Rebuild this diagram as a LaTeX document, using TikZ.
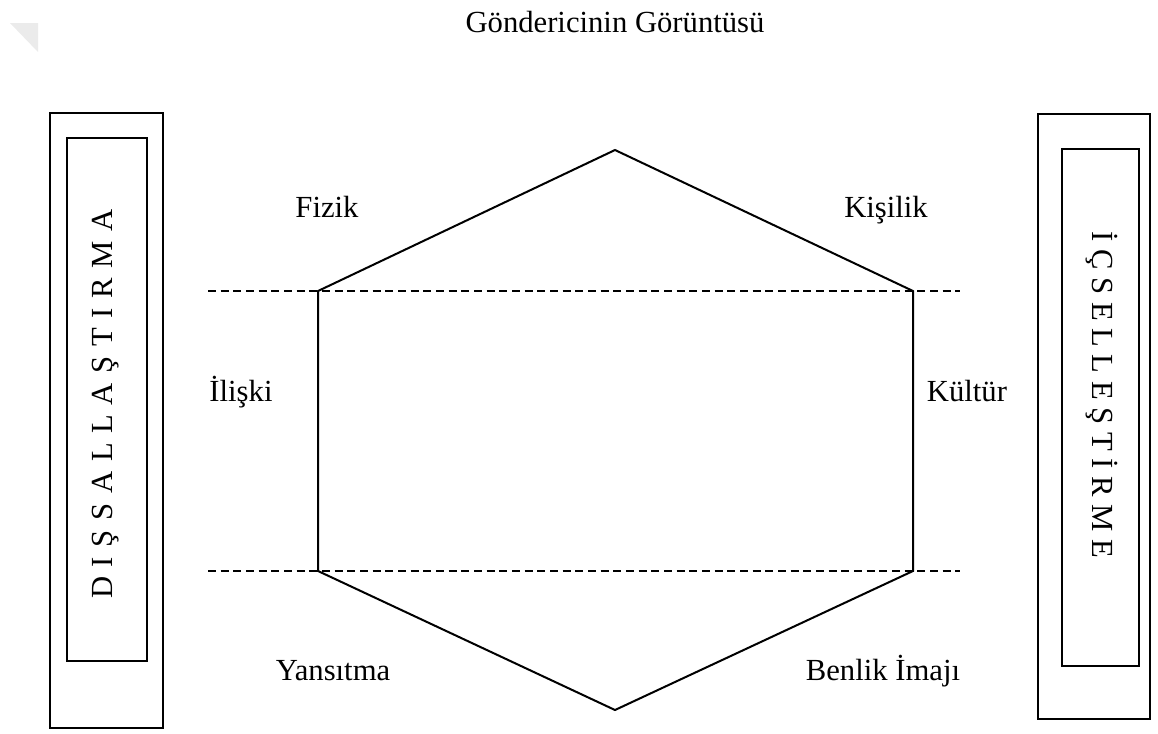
\documentclass[tikz,border=0pt]{standalone}
\usepackage{fontspec}
\setmainfont{Liberation Serif}
\usetikzlibrary{positioning}
\newcommand{\widegaps}[2]{\spaceskip=#1\relax #2}

\begin{document}
\begin{tikzpicture}[x=0.75pt, y=-0.75pt,
	outerbox/.style={draw, line width=2pt, inner sep=0pt},
	innerbox/.style={draw, line width=1pt, inner sep=0pt},
	hexline/.style={line width=1.5pt, line join=miter},
	levelline/.style={line width=0.8pt, dash pattern=on 6pt off 3.5pt},
	lbl/.style={font=\fontsize{23}{27}\selectfont, inner sep=0pt, anchor=base}]
	\useasboundingbox (0, 0) rectangle (1158, 733);
	% Corner shade:
	\fill[black!8] (10, 23) -- (38, 23) -- (38, 52) -- cycle;
	% Title:
	\node[lbl] (title) at (615, 32){Göndericinin Görüntüsü};
	% Side boxes:
	\node[outerbox, minimum width=84.75pt, minimum height=461.25pt] (leftout) at (106.5, 420.5){};
	\node[innerbox, minimum width=60pt, minimum height=392.25pt] (leftin) at (107, 399.5){};
	\node[lbl, anchor=center, rotate=90] (dis) at (106, 404){\widegaps{7.25pt}{D I Ş S A L L A Ş T I R M A}};
	\node[outerbox, minimum width=84pt, minimum height=453.75pt] (rightout) at (1094, 416.5){};
	\node[innerbox, minimum width=57.75pt, minimum height=387.75pt] (rightin) at (1100.5, 407.5){};
	\node[lbl, anchor=center, rotate=-90] (ic) at (1102, 395){İ Ç S E L L E Ş T İ R M E};
	% Hexagon corners:
	\coordinate (top) at (615, 150);
	\coordinate (ul) at (318, 291);
	\coordinate (ur) at (913, 291);
	\coordinate (ll) at (318, 571);
	\coordinate (lr) at (913, 571);
	\coordinate (bot) at (615, 710);
	\draw[hexline] (top) -- (ur) -- (lr) -- (bot) -- (ll) -- (ul) -- cycle;
	% Dashed levels:
	\coordinate (d1a) at (208, 291);
	\coordinate (d1b) at (960, 291);
	\coordinate (d2a) at (208, 571);
	\coordinate (d2b) at (960, 571);
	\draw[levelline] (d1a) -- (d1b);
	\draw[levelline] (d2a) -- (d2b);
	% Labels:
	\node[lbl] (fizik) at (327, 217){Fizik};
	\node[lbl] (kisilik) at (886, 217){Kişilik};
	\node[lbl] (iliski) at (241, 401){İlişki};
	\node[lbl] (kultur) at (967, 401){Kültür};
	\node[lbl] (yansitma) at (333, 680){Yansıtma};
	\node[lbl] (benlik) at (883, 680){Benlik İmajı};
\end{tikzpicture}
\end{document}
